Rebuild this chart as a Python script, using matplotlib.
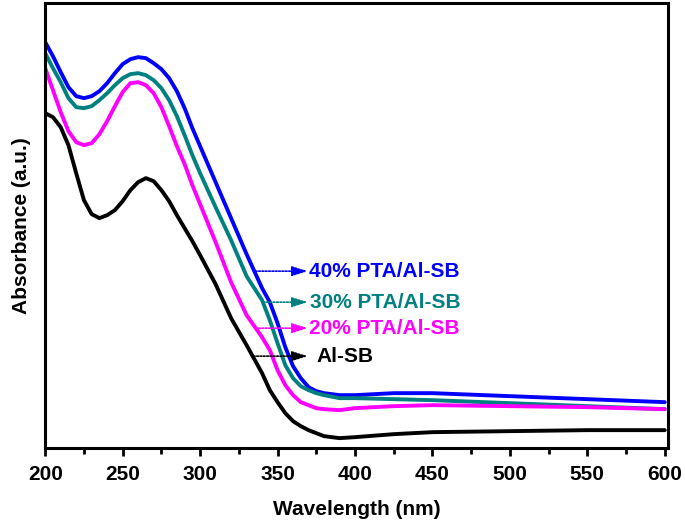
import numpy as np
import matplotlib
matplotlib.use('Agg')
import matplotlib.pyplot as plt
from matplotlib.ticker import MultipleLocator

# UV-vis spectra (arbitrary absorbance units)
wavelength = [200, 205, 210, 215, 220, 225, 230, 235, 240, 245, 250, 255, 260, 265, 270, 275,
              280, 285, 290, 295, 300, 310, 320, 330, 340, 345, 350, 355, 360, 365, 370, 375,
              380, 390, 400, 425, 450, 500, 550, 600]

abs_40 = [4.06, 3.92, 3.76, 3.61, 3.52, 3.50, 3.52, 3.57, 3.65, 3.75, 3.84, 3.89, 3.91, 3.90, 3.85, 3.79,
          3.70, 3.57, 3.40, 3.20, 3.02, 2.66, 2.30, 1.94, 1.60, 1.46, 1.25, 1.01, 0.82, 0.70, 0.61, 0.57,
          0.55, 0.53, 0.53, 0.55, 0.55, 0.52, 0.49, 0.46]
abs_30 = [3.95, 3.80, 3.66, 3.50, 3.41, 3.40, 3.42, 3.48, 3.55, 3.63, 3.70, 3.74, 3.75, 3.73, 3.68, 3.60,
          3.48, 3.32, 3.13, 2.93, 2.75, 2.41, 2.08, 1.72, 1.48, 1.28, 1.05, 0.83, 0.70, 0.62, 0.58, 0.55,
          0.53, 0.50, 0.50, 0.49, 0.48, 0.45, 0.42, 0.39]
abs_20 = [3.80, 3.58, 3.36, 3.17, 3.06, 3.03, 3.05, 3.14, 3.27, 3.42, 3.56, 3.65, 3.66, 3.63, 3.55, 3.41,
          3.22, 3.02, 2.84, 2.63, 2.44, 2.06, 1.66, 1.33, 1.11, 0.98, 0.78, 0.63, 0.53, 0.46, 0.43, 0.40,
          0.39, 0.38, 0.40, 0.42, 0.43, 0.42, 0.41, 0.39]
abs_sb = [3.35, 3.31, 3.21, 3.03, 2.75, 2.48, 2.34, 2.30, 2.33, 2.38, 2.47, 2.58, 2.66, 2.70, 2.67, 2.58,
          2.47, 2.33, 2.20, 2.07, 1.93, 1.64, 1.30, 1.03, 0.75, 0.58, 0.46, 0.35, 0.27, 0.22, 0.18, 0.15,
          0.12, 0.10, 0.11, 0.14, 0.16, 0.17, 0.18, 0.18]

labels = ['40% PTA/Al-SB', '30% PTA/Al-SB', '20% PTA/Al-SB', 'Al-SB']
colors = ['#0000ff', '#008080', '#ff00ff', '#000000']
series = [abs_40, abs_30, abs_20, abs_sb]

# arrow start on curve (nm, abs) and label height
arrow_start = [(335.7, 1.77), (340.8, 1.46), (335.7, 1.20), (334.4, 0.92)]
arrow_tip_x = 369.5
label_x = [370.5, 371.0, 370.5, 375.0]

plt.rcParams['font.family'] = ['Liberation Sans', 'DejaVu Sans']
plt.rcParams['font.weight'] = 'bold'

fig = plt.figure(figsize=(6.85, 5.26), dpi=100)
ax = fig.add_axes([0.066, 0.148, 0.909, 0.846])

for y, c in zip(series, colors):
    ax.plot(wavelength, y, color=c, lw=2.8, solid_joinstyle='round', solid_capstyle='round')

for (x0, y0), lx, lab, c in zip(arrow_start, label_x, labels, colors):
    ax.annotate('', xy=(arrow_tip_x, y0), xytext=(x0, y0),
                arrowprops=dict(arrowstyle='-|>,head_length=0.95,head_width=0.3',
                                color=c, lw=1.2, linestyle=(0, (1, 1)),
                                shrinkA=0, shrinkB=0))
    ax.text(lx, y0, lab, color=c, fontsize=15, fontweight='bold', va='center', ha='left')

ax.set_xlim(200, 602)
ax.set_ylim(0, 4.45)
ax.xaxis.set_major_locator(MultipleLocator(50))
ax.xaxis.set_minor_locator(MultipleLocator(25))
ax.set_yticks([])
ax.tick_params(axis='x', which='major', direction='out', length=6, width=2, labelsize=15, pad=6)
ax.tick_params(axis='x', which='minor', direction='out', length=4, width=2)
for lbl in ax.get_xticklabels():
    lbl.set_fontweight('bold')
for sp in ax.spines.values():
    sp.set_linewidth(2.2)

ax.set_xlabel('Wavelength (nm)', fontsize=15, fontweight='bold', labelpad=12)
ax.set_ylabel('Absorbance (a.u.)', fontsize=15, fontweight='bold', labelpad=10)

fig.savefig('out.png', dpi=100)
